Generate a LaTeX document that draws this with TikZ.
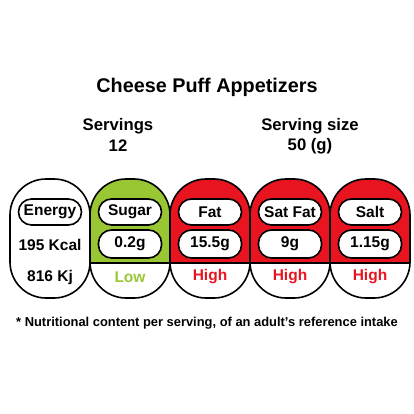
\documentclass[tikz,border=0pt]{standalone}
\usepackage{fontspec}
\setmainfont{Liberation Sans}
\definecolor{lowgreen}{RGB}{153,199,51}
\definecolor{highred}{RGB}{232,20,32}
\tikzset{
	capsule/.style={rounded corners=36pt},
	pill/.style={draw, line width=1.6pt, fill=white, rounded corners=13pt, minimum width=63pt, minimum height=26pt, inner sep=0pt, font=\bfseries\fontsize{15.5}{16}\selectfont},
	txt/.style={inner sep=0pt, font=\bfseries\fontsize{15.5}{16}\selectfont},
	head/.style={inner sep=0pt, font=\bfseries\fontsize{16.7}{18}\selectfont}
}
\begin{document}
\begin{tikzpicture}[x=1pt,y=-1pt]
	\useasboundingbox (0,0) rectangle (414,414);
	\node[inner sep=0pt, font=\bfseries\fontsize{19.8}{20}\selectfont] (title) at (207,87) {Cheese Puff Appetizers};
	\node[head] (servings) at (118,126) {Servings};
	\node[head] (servnum) at (118,146) {12};
	\node[head] (size) at (310,126) {Serving size};
	\node[head] (sizenum) at (310,146) {50 (g)};
	% energy column
	\draw[capsule, line width=1.6pt] (10,179) rectangle (90,298);
	\node[pill] (energy) at (50,212) {Energy};
	\node[txt] (kcal) at (50,245) {195 Kcal};
	\node[txt] (kj) at (50,277) {816 Kj};
	% traffic light columns
	\foreach \name/\amount/\level/\col [count=\i] in {Sugar/0.2g/Low/lowgreen, Fat/15.5g/High/highred, Sat Fat/9g/High/highred, Salt/1.15g/High/highred}{
		\begin{scope}
			\clip[capsule] (10+80*\i,179) rectangle (90+80*\i,298);
			\fill[\col] (10+80*\i,179) rectangle (90+80*\i,263);
			\draw[line width=1.6pt] (10+80*\i,263) -- (90+80*\i,263);
		\end{scope}
		\draw[capsule, line width=1.6pt] (10+80*\i,179) rectangle (90+80*\i,298);
		\node[pill] (label\i) at (50+80*\i,212) {\name};
		\node[pill, minimum height=28pt] (amount\i) at (50+80*\i,244) {\amount};
		\node[txt, text=\col] (level\i) at (50+80*\i,277) {\level};
	}
	\node[inner sep=0pt, font=\bfseries\fontsize{12.9}{14}\selectfont] (note) at (207,323) {* Nutritional content per serving, of an adult\char"27 s reference intake};
\end{tikzpicture}
\end{document}
